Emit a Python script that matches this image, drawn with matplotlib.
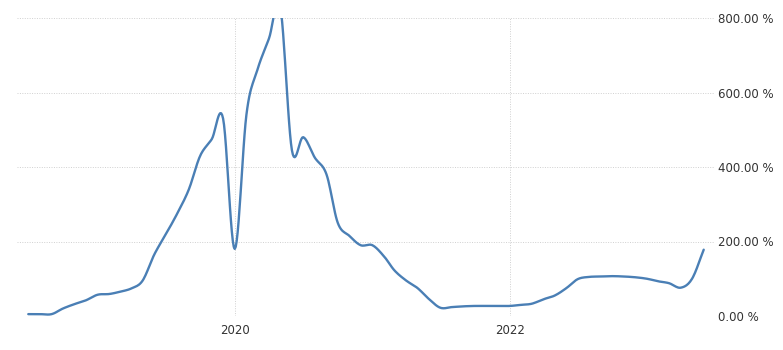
import numpy as np
import pandas as pd
import matplotlib
matplotlib.use("Agg")
import matplotlib.pyplot as plt
import matplotlib.dates as mdates
from matplotlib.ticker import FuncFormatter

# monthly values, Jul 2018 .. Dec 2021 .. May 2023
values = [5, 5, 5, 20, 32, 42,
          57, 59, 65, 74, 95, 165, 218, 275, 340, 430, 475, 530,
          180, 540, 660, 745, 830, 445, 480, 425, 380, 250, 215, 190,
          190, 160, 122, 95, 75, 45, 22, 24, 26, 27, 27, 27,
          27, 30, 33, 45, 55, 75, 99, 105, 106, 107, 106, 104,
          100, 93, 88, 76, 100, 178]
months = pd.date_range("2018-07-01", periods=len(values), freq="MS")

yticks = [0, 200, 400, 600, 800]
xtick_years = ["2020-01-01", "2022-01-01"]


def catmull_rom(x, y, n=12):
    # smooth spline through the points, like the original chart's rendering
    x = np.asarray(x, float)
    y = np.asarray(y, float)
    px = np.concatenate([[2 * x[0] - x[1]], x, [2 * x[-1] - x[-2]]])
    py = np.concatenate([[2 * y[0] - y[1]], y, [2 * y[-1] - y[-2]]])
    xs, ys = [], []
    t = np.linspace(0, 1, n, endpoint=False)
    for i in range(1, len(px) - 2):
        for arr, out in ((px, xs), (py, ys)):
            p0, p1, p2, p3 = arr[i - 1], arr[i], arr[i + 1], arr[i + 2]
            out.append(0.5 * ((2 * p1) + (-p0 + p2) * t
                              + (2 * p0 - 5 * p1 + 4 * p2 - p3) * t ** 2
                              + (-p0 + 3 * p1 - 3 * p2 + p3) * t ** 3))
    xs.append([x[-1]])
    ys.append([y[-1]])
    return np.concatenate(xs), np.concatenate(ys)


xnum = mdates.date2num(months)
sx, sy = catmull_rom(xnum, values)

fig = plt.figure(figsize=(7.83, 3.5), dpi=100)
ax = fig.add_axes([17 / 783, 1 - 316 / 350, (715 - 17) / 783, 298 / 350])

ax.plot(sx, sy, color="#4a7fb5", lw=1.7, solid_capstyle="round")

ax.set_ylim(0, 800)
ax.set_xlim(mdates.date2num(pd.Timestamp("2018-06-01")),
            mdates.date2num(pd.Timestamp("2023-07-01")))

ax.set_yticks(yticks)
ax.yaxis.set_major_formatter(FuncFormatter(lambda v, p: f"{v:.2f} %"))
ax.yaxis.tick_right()
ax.set_xticks(mdates.date2num(pd.to_datetime(xtick_years)))
ax.set_xticklabels([d[:4] for d in xtick_years])

ax.tick_params(length=0, labelsize=8.5, colors="#333333", pad=2)
ax.tick_params(axis="x", pad=6)
for s in ax.spines.values():
    s.set_visible(False)
ax.grid(True, color="#d0d0d0", ls=(0, (1, 1.5)), lw=0.7)
ax.set_axisbelow(True)

fig.savefig("out.png", dpi=100)
